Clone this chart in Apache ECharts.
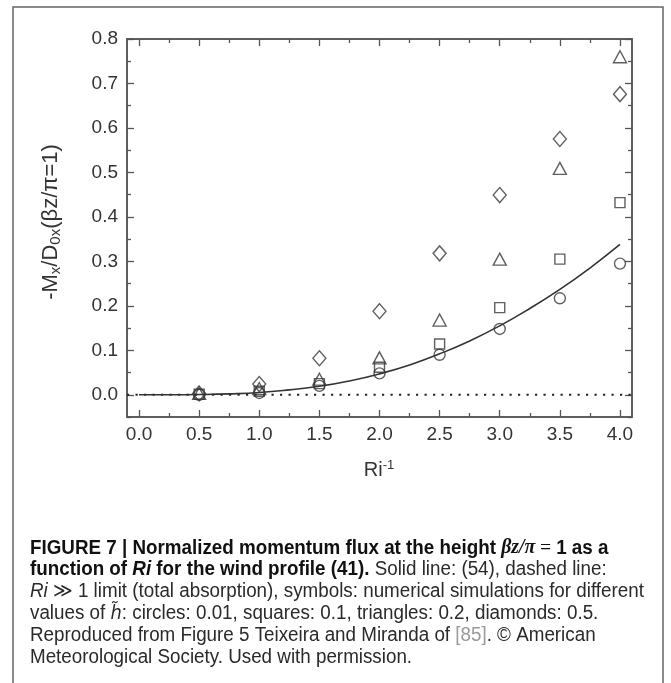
<!DOCTYPE html>
<html>
<head>
<meta charset="utf-8">
<script src="https://cdn.jsdelivr.net/npm/echarts@6/dist/echarts.min.js"></script>
<style>
html,body{margin:0;padding:0;background:#fff;}
#c{width:671px;height:683px;}
</style>
</head>
<body>
<div id="c"></div>
<script>
// ---- data ----
var xPoints = [0.5, 1.0, 1.5, 2.0, 2.5, 3.0, 3.5, 4.0];
var circles   = [0.000, 0.004, 0.020, 0.048, 0.090, 0.148, 0.217, 0.295];
var squares   = [0.001, 0.008, 0.025, 0.062, 0.114, 0.196, 0.305, 0.432];
var triangles = [0.003, 0.014, 0.035, 0.083, 0.168, 0.305, 0.509, 0.760];
var diamonds  = [0.003, 0.024, 0.082, 0.188, 0.318, 0.449, 0.575, 0.676];

var curveX = [0, 0.25, 0.5, 0.75, 1.0, 1.25, 1.5, 1.75, 2.0, 2.25, 2.5, 2.75, 3.0, 3.25, 3.5, 3.75, 4.0];
var curveY = [0, 0, 0.0005, 0.002, 0.005, 0.011, 0.019, 0.031, 0.047, 0.067, 0.092, 0.121, 0.155, 0.194, 0.237, 0.285, 0.338];

var limitX = [-0.1, 4.1];
var limitY = [0, 0];

var xMajor = [0, 0.5, 1.0, 1.5, 2.0, 2.5, 3.0, 3.5, 4.0];
var xMinor = [0.25, 0.75, 1.25, 1.75, 2.25, 2.75, 3.25, 3.75];
var yMajor = [0, 0.1, 0.2, 0.3, 0.4, 0.5, 0.6, 0.7, 0.8];
var yMinor = [-0.05, 0.05, 0.15, 0.25, 0.35, 0.45, 0.55, 0.65, 0.75];

function pairs(xs, ys) { return xs.map(function (x, i) { return [x, ys[i]]; }); }

var AX = '#555';
var LBL = '#333';
var SYM = '#383838';
var tickFont = 'Liberation Sans';

function xAx(pos, ticks, len, labels) {
  return {
    type: 'value', position: pos, min: -0.1, max: 4.1,
    splitLine: {show: false},
    axisLine: {show: true, onZero: false, lineStyle: {color: AX, width: 1.5}},
    axisTick: {show: true, inside: true, length: len, customValues: ticks, lineStyle: {color: AX, width: 1.3}},
    axisLabel: labels ? {show: true, customValues: xMajor, margin: 8, fontSize: 19, color: LBL, fontFamily: tickFont,
      formatter: function (v) { return v.toFixed(1); }} : {show: false}
  };
}
function yAx(pos, ticks, len, labels) {
  return {
    type: 'value', position: pos, min: -0.05, max: 0.8,
    splitLine: {show: false},
    axisLine: {show: true, onZero: false, lineStyle: {color: AX, width: 1.5}},
    axisTick: {show: true, inside: true, length: len, customValues: ticks, lineStyle: {color: AX, width: 1.3}},
    axisLabel: labels ? {show: true, customValues: yMajor, margin: 9, fontSize: 19, color: LBL, fontFamily: tickFont,
      formatter: function (v) { return v.toFixed(1); }} : {show: false}
  };
}

function scatter(name, ys, symbol, size) {
  return {
    name: name, type: 'scatter', xAxisIndex: 0, yAxisIndex: 0,
    data: pairs(xPoints, ys), symbol: symbol, symbolSize: size,
    itemStyle: {color: 'transparent', borderColor: SYM, borderWidth: 1.4},
    z: 5
  };
}

var capFont = 'Liberation Sans';
var capSize = 20;
var capScaleX = 0.94;
var rich = {
  b: {fontFamily: capFont, fontSize: capSize, fontWeight: 'bold', fill: '#111'},
  bi: {fontFamily: capFont, fontSize: capSize, fontWeight: 'bold', fontStyle: 'italic', fill: '#111'},
  m: {fontFamily: 'Liberation Serif', fontSize: capSize + 1, fontWeight: 'bold', fontStyle: 'italic', fill: '#111'},
  me: {fontFamily: 'Liberation Serif', fontSize: capSize + 1, fill: '#111'},
  r: {fontFamily: capFont, fontSize: capSize, fill: '#2a2a2a'},
  i: {fontFamily: capFont, fontSize: capSize, fontStyle: 'italic', fill: '#2a2a2a'},
  ht: {fontFamily: 'DejaVu Sans', fontSize: capSize - 1, fontStyle: 'italic', fill: '#2a2a2a'},
  g: {fontFamily: capFont, fontSize: capSize, fill: '#9a9a9a'}
};
var capLines = [
  '{b|FIGURE 7 | Normalized momentum flux at the height }{m|βz/π}{me| = }{b|1 as a}',
  '{b|function of }{bi|Ri}{b| for the wind profile (41).}{r| Solid line: (54), dashed line:}',
  '{i|Ri}{r| ≫ 1 limit (total absorption), symbols: numerical simulations for different}',
  '{r|values of }{ht|h\u0303}{r|: circles: 0.01, squares: 0.1, triangles: 0.2, diamonds: 0.5.}',
  '{r|Reproduced from Figure 5 Teixeira and Miranda of }{g|[85]}{r|. © American}',
  '{r|Meteorological Society. Used with permission.}'
];
var capTop = 548, capStep = 21.9;

var graphics = [
  {type: 'rect', shape: {x: 13, y: 7, width: 650, height: 690}, style: {fill: 'none', stroke: '#666', lineWidth: 1.5}, silent: true},
  {type: 'text', x: 51, y: 222, rotation: Math.PI / 2,
    style: {text: '-M{sub|x}/D{sub|0x}(βz/π=1)', align: 'center', verticalAlign: 'middle',
      fontFamily: tickFont, fontSize: 22, lineHeight: 24, fill: LBL,
      rich: {sub: {fontFamily: tickFont, fontSize: 15, lineHeight: 10, verticalAlign: 'bottom', fill: LBL}}}},
  {type: 'text', x: 379, y: 470,
    style: {text: 'Ri{sup|-1}', align: 'center', verticalAlign: 'middle',
      fontFamily: tickFont, fontSize: 20, lineHeight: 22, fill: LBL,
      rich: {sup: {fontFamily: tickFont, fontSize: 13, lineHeight: 11, verticalAlign: 'top', fill: LBL}}}}
];
capLines.forEach(function (t, i) {
  graphics.push({type: 'text', x: 30, y: capTop + i * capStep, scaleX: capScaleX,
    style: {text: t, rich: rich, align: 'left', verticalAlign: 'middle', fontFamily: capFont, fontSize: capSize, fill: '#222'}});
});

var chart = echarts.init(document.getElementById('c'), null, {renderer: 'canvas'});
chart.setOption({
  animation: false,
  backgroundColor: '#fff',
  grid: {left: 127, right: 39, top: 39, bottom: 266},
  xAxis: [xAx('bottom', xMajor, 7, true), xAx('bottom', xMinor, 4, false), xAx('top', xMajor, 7, false), xAx('top', xMinor, 4, false)],
  yAxis: [yAx('left', yMajor, 7, true), yAx('left', yMinor, 4, false), yAx('right', yMajor, 7, false), yAx('right', yMinor, 4, false)],
  graphic: graphics,
  series: [
    {name: 'limit', type: 'line', xAxisIndex: 0, yAxisIndex: 0, data: pairs(limitX, limitY), symbol: 'none',
      lineStyle: {color: '#222', width: 2.2, type: [2.2, 6.3]}, z: 2},
    {name: 'theory', type: 'line', xAxisIndex: 0, yAxisIndex: 0, data: pairs(curveX, curveY), symbol: 'none', smooth: true,
      lineStyle: {color: '#333', width: 1.6}, z: 3},
    scatter('circles', circles, 'circle', 11),
    scatter('squares', squares, 'rect', 10),
    scatter('triangles', triangles, 'triangle', [13, 12]),
    scatter('diamonds', diamonds, 'diamond', [13, 15])
  ]
});
</script>
</body>
</html>
